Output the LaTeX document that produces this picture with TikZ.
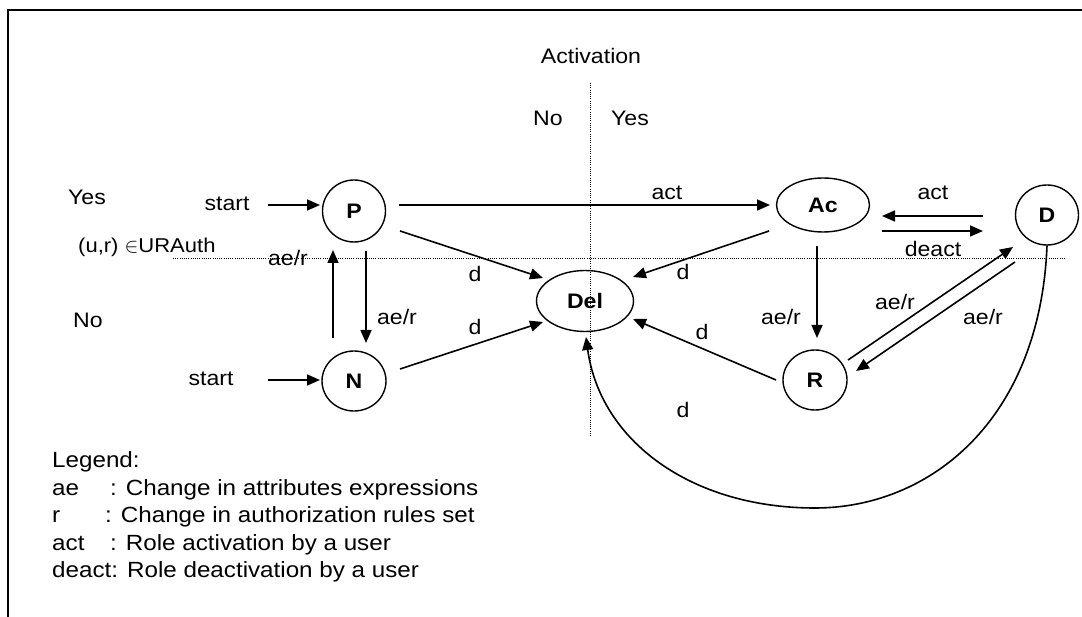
\documentclass[tikz,border=0pt]{standalone}
\usepackage{fontspec}
\setmainfont{Liberation Sans}[FakeStretch=1.1]
\usetikzlibrary{arrows.meta,shapes.geometric}
\begin{document}
\begin{tikzpicture}[x=1pt,y=-1pt,
  every node/.style={font=\fontsize{21}{25}\selectfont, inner sep=0pt},
  state/.style={draw, ellipse, line width=1.4pt, inner sep=0pt,
    font=\fontsize{21}{25}\selectfont\bfseries},
  arr/.style={line width=1.6pt, -{Triangle[length=13pt,width=11pt]}},
  guide/.style={line width=0.9pt, dash pattern=on 0.9pt off 1.3pt},
  legend/.style={anchor=west, font=\fontsize{22}{26}\selectfont}
]
\useasboundingbox (0,0) rectangle (1082,617);
% frame
\draw[line width=2pt] (8,620) -- (8,10) -- (1085,10);
% guide lines
\coordinate (vtop) at (590,83);
\coordinate (vbot) at (590,437);
\coordinate (hleft) at (173,258);
\coordinate (hright) at (1065,258);
\draw[guide] (vtop) -- (vbot);
\draw[guide] (hleft) -- (hright);
% guide texts
\node (activation) at (591,56) {Activation};
\node (actno) at (548,118) {No};
\node (actyes) at (630,118) {Yes};
\node (authyes) at (87,197) {Yes};
\node (authno) at (88,320) {No};
\node[anchor=west, font=\fontsize{20}{24}\selectfont] (uraauth) at (78,247) {(u,r) $\in$URAuth};
% states
\node[state, minimum width=63pt, minimum height=62pt] (P) at (354,211) {P};
\node[state, minimum width=64pt, minimum height=60pt] (N) at (354,381) {N};
\node[state, minimum width=97pt, minimum height=61pt] (Del) at (585,301) {Del};
\node[state, minimum width=93pt, minimum height=54pt] (Ac) at (823,205) {Ac};
\node[state, minimum width=63pt, minimum height=60pt] (D) at (1047,215) {D};
\node[state, minimum width=64pt, minimum height=60pt] (R) at (815,380) {R};
% start labels
\node (startP) at (227,204) {start};
\node (startN) at (211,379) {start};
% edges
\draw[arr] ([shift={(18,1)}]startP.east) -- ([shift={(-34,-6)}]P.center);
\draw[arr] ([shift={(34,1)}]startN.east) -- ([shift={(-34,-1)}]N.center);
\draw[arr] ([shift={(45,-6)}]P.center) -- ([shift={(-53,0)}]Ac.center);
\draw[arr] ([shift={(46,20)}]P.center) -- ([shift={(-42,-23)}]Del.center);
\draw[arr] ([shift={(46,-12)}]N.center) -- ([shift={(-42,21)}]Del.center);
\draw[arr] ([shift={(12,40)}]P.center) -- ([shift={(12,-38)}]N.center);
\draw[arr] ([shift={(-21,-43)}]N.center) -- ([shift={(-21,39)}]P.center);
\draw[arr] ([shift={(-54,26)}]Ac.center) -- ([shift={(48,-24)}]Del.center);
\draw[arr] ([shift={(-64,1)}]D.center) -- ([shift={(59,11)}]Ac.center);
\draw[arr] ([shift={(59,26)}]Ac.center) -- ([shift={(-64,16)}]D.center);
\draw[arr] ([shift={(-6,41)}]Ac.center) -- ([shift={(2,-42)}]R.center);
\draw[arr] ([shift={(-39,0)}]R.center) -- ([shift={(48,18)}]Del.center);
\draw[arr] ([shift={(33,-20)}]R.center) -- ([shift={(-34,32)}]D.center);
\draw[arr] ([shift={(-32,47)}]D.center) -- ([shift={(41,-9)}]R.center);
\coordinate (loopbot) at (815,508);
\draw[arr] (D.south) .. controls (1040,420) and (930,508) .. (loopbot)
  .. controls (690,508) and (600,440) .. ([shift={(1,36)}]Del.center);
% edge labels
\node (lPAc) at (667,193) {act};
\node (lPDel) at (475,274) {d};
\node (lNDel) at (475,327) {d};
\node (lPN) at (397,317) {ae/r};
\node (lNP) at (288,258) {ae/r};
\node (lAcDel) at (683,272) {d};
\node (lDAc) at (933,193) {act};
\node (lAcD) at (933,249) {deact};
\node (lAcR) at (781,317) {ae/r};
\node (lRDel) at (702,332) {d};
\node (lRD) at (895,302) {ae/r};
\node (lDR) at (983,317) {ae/r};
\node (lDDel) at (683,410) {d};
% legend
\node[legend] (lg0) at (52,462) {Legend:};
\node[legend] (lg1) at (52,490) {\makebox[58pt][l]{ae}: Change in attributes expressions};
\node[legend] (lg2) at (52,517) {\makebox[53pt][l]{r}: Change in authorization rules set};
\node[legend] (lg3) at (52,545) {\makebox[58pt][l]{act}: Role activation by a user};
\node[legend] (lg4) at (52,572) {deact: Role deactivation by a user};
\end{tikzpicture}
\end{document}
